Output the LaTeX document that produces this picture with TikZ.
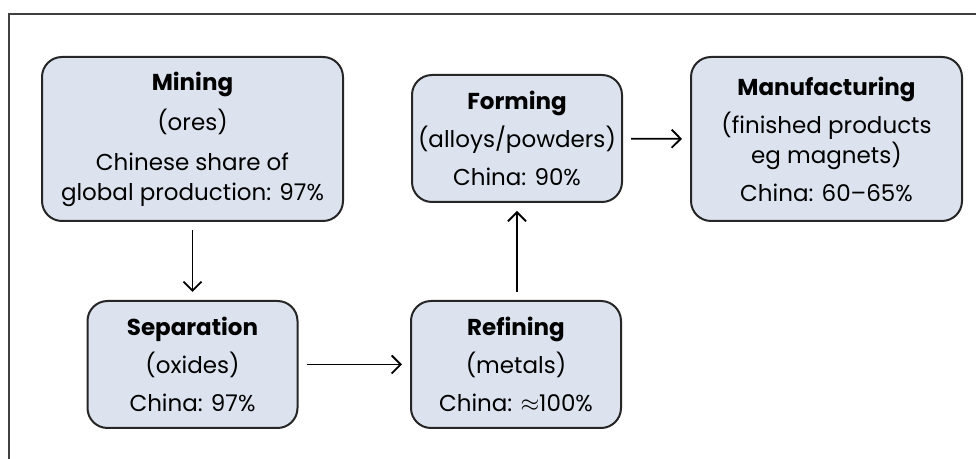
\documentclass[tikz,border=0pt]{standalone}
\usepackage{fontspec}
\setmainfont{Poppins}
\usetikzlibrary{
	positioning		% relative placement
	, arrows.meta	% open arrow heads
}
\definecolor{stagefill}{HTML}{DCE3EF}

\begin{document}
\begin{tikzpicture}[x=0.5pt, y=-0.5pt,
			stage/.style={
				rectangle,
				rounded corners=10pt,
				draw=black!85, line width=1pt,
				fill=stagefill,
				align=center,
				inner sep=0pt,
				font=\fontsize{11.5}{15}\selectfont
			},
			small/.style={
				stage,
				minimum width=105pt,
				minimum height=63.5pt
			},
			large/.style={
				stage,
				minimum height=82pt
			},
			arrow/.style={
				-{Straight Barb[length=4.5pt, width=9pt]},
				line width=0.9pt,
				shorten <=4pt, shorten >=4pt
			}]

			\useasboundingbox (0,0) rectangle (976,459);

			%%% Outer frame, open at the right and bottom
			\draw [draw=black!75, line width=0.9pt] (9,459) -- (9,14) -- (976,14);

			%%% Stages of the supply chain
			\node [large, minimum width=150.5pt] (mining) at (192.5,139)
				{\textbf{Mining}\\[5pt] (ores)\\[5pt] Chinese share of\\ global production: 97\%};
			\node [small] (separation) at (192.5,364.5)
				{\textbf{Separation}\\[4pt] (oxides)\\[4pt] China: 97\%};
			\node [small] (refining) at (516,364.5)
				{\textbf{Refining}\\[4pt] (metals)\\[4pt] China: $\approx$100\%};
			\node [small] (forming) at (517,138.5)
				{\textbf{Forming}\\[4pt] (alloys/powders)\\[4pt] China: 90\%};
			\node [large, minimum width=135.5pt] (manufacturing) at (826.5,139)
				{\textbf{Manufacturing}\\[4pt] (finished products\\ eg magnets)\\[4pt] China: 60--65\%};

			%%% Flow between the stages
			\draw [arrow] (mining) -- (separation);
			\draw [arrow] (separation) -- (refining);
			\draw [arrow] (refining.north -| forming) -- (forming);
			\draw [arrow] (forming) -- (manufacturing);

		\end{tikzpicture}
\end{document}
